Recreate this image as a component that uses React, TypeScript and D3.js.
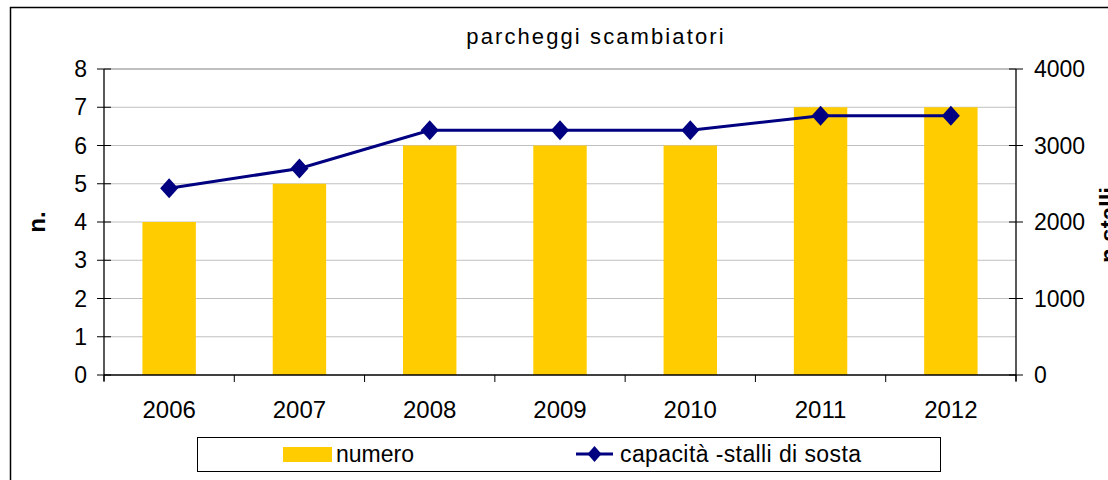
import React from "react";
import * as d3 from "d3";

const years = ["2006", "2007", "2008", "2009", "2010", "2011", "2012"];
const numero = [4, 5, 6, 6, 6, 7, 7];
const capacita = [2440, 2700, 3200, 3200, 3200, 3390, 3390];
const leftTicks = [0, 1, 2, 3, 4, 5, 6, 7, 8];
const rightTicks = [0, 1000, 2000, 3000, 4000];
const title = "parcheggi scambiatori";
const leftTitle = "n.";
const rightTitle = "n.stalli";
const legendLabels = ["numero", "capacità -stalli di sosta"];

const W = 1108;
const H = 480;
const FONT = "'Liberation Sans', Arial, sans-serif";
const BAR = "#FFCC00";
const LINE = "#000080";

export default function App() {
  const plot = { left: 104, right: 1016, top: 69, bottom: 375 };
  const x = d3.scaleBand<string>().domain(years).range([plot.left, plot.right]).padding(0);
  const yL = d3.scaleLinear().domain([0, 8]).range([plot.bottom, plot.top]);
  const yR = d3.scaleLinear().domain([0, 4000]).range([plot.bottom, plot.top]);
  const barW = x.bandwidth() * 0.41;
  const cx = (y: string) => (x(y) as number) + x.bandwidth() / 2;

  const line = d3
    .line<number>()
    .x((_, i) => cx(years[i]))
    .y((d) => yR(d));

  const diamond = (px: number, py: number, hw = 9, hh = 10) =>
    `M${px},${py - hh}L${px + hw},${py}L${px},${py + hh}L${px - hw},${py}Z`;

  const boundaries = years.map((y) => x(y) as number).concat([plot.right]);

  return (
    <svg
      width={W}
      height={H}
      style={{ position: "absolute", left: 0, top: 0, background: "#fff" }}
      fontFamily={FONT}
    >
      <rect x={0} y={0} width={W} height={H} fill="#fff" />
      <rect x={10.5} y={7.5} width={1300} height={700} fill="none" stroke="#000" strokeWidth={1.5} />

      <text x={596} y={44} textAnchor="middle" fontSize={22} letterSpacing={2.1} fill="#000">
        {title}
      </text>

      {/* gridlines */}
      {leftTicks.slice(1, -1).map((t) => (
        <line key={"g" + t} x1={plot.left} x2={plot.right} y1={yL(t)} y2={yL(t)} stroke="#c0c0c0" strokeWidth={1} />
      ))}
      <line x1={plot.left} x2={plot.right} y1={plot.top} y2={plot.top} stroke="#808080" strokeWidth={1.2} />

      {/* bars */}
      {years.map((y, i) => (
        <rect
          key={"b" + y}
          x={cx(y) - barW / 2}
          y={yL(numero[i])}
          width={barW}
          height={plot.bottom - yL(numero[i])}
          fill={BAR}
        />
      ))}

      {/* axes */}
      <line x1={plot.left} x2={plot.right} y1={plot.bottom} y2={plot.bottom} stroke="#000" strokeWidth={1.3} />
      {boundaries.map((b, i) => (
        <line key={"xt" + i} x1={b} x2={b} y1={plot.bottom} y2={plot.bottom + 7} stroke="#000" strokeWidth={1} />
      ))}
      {years.map((y) => (
        <text key={"xl" + y} x={cx(y)} y={418} textAnchor="middle" fontSize={24} fill="#000">
          {y}
        </text>
      ))}

      <line x1={plot.left} x2={plot.left} y1={plot.top} y2={plot.bottom + 6} stroke="#000" strokeWidth={1.3} />
      {leftTicks.map((t) => (
        <g key={"lt" + t}>
          <line x1={plot.left - 7} x2={plot.left + 7} y1={yL(t)} y2={yL(t)} stroke="#000" strokeWidth={1} />
          <text x={87} y={yL(t) + 8} textAnchor="end" fontSize={23} fill="#000">
            {t}
          </text>
        </g>
      ))}

      <line x1={plot.right} x2={plot.right} y1={plot.top} y2={plot.bottom + 6} stroke="#000" strokeWidth={1.3} />
      {rightTicks.map((t) => (
        <g key={"rt" + t}>
          <line x1={plot.right - 7} x2={plot.right + 7} y1={yR(t)} y2={yR(t)} stroke="#000" strokeWidth={1} />
          <text x={1034} y={yR(t) + 8} textAnchor="start" fontSize={23} fill="#000">
            {t}
          </text>
        </g>
      ))}

      <text
        transform={`translate(45,222) rotate(-90)`}
        textAnchor="middle"
        fontSize={24}
        fontWeight="bold"
        fill="#000"
      >
        {leftTitle}
      </text>
      <text
        transform={`translate(1117,225) rotate(-90)`}
        textAnchor="middle"
        fontSize={24}
        fontWeight="bold"
        fill="#000"
      >
        {rightTitle}
      </text>

      {/* line */}
      <path d={line(capacita) as string} fill="none" stroke={LINE} strokeWidth={3} />
      {capacita.map((v, i) => (
        <path key={"d" + i} d={diamond(cx(years[i]), yR(v))} fill={LINE} />
      ))}

      {/* legend */}
      <rect x={197.5} y={437.5} width={743} height={34} fill="#fff" stroke="#000" strokeWidth={1} />
      <rect x={283} y={447} width={49} height={15} fill={BAR} />
      <text x={336} y={462} fontSize={23} fill="#000">
        {legendLabels[0]}
      </text>
      <line x1={576} x2={613} y1={454} y2={454} stroke={LINE} strokeWidth={3} />
      <path d={diamond(594.5, 454, 7, 8)} fill={LINE} />
      <text x={620} y={462} fontSize={23} letterSpacing={0.4} fill="#000">
        {legendLabels[1]}
      </text>
    </svg>
  );
}
